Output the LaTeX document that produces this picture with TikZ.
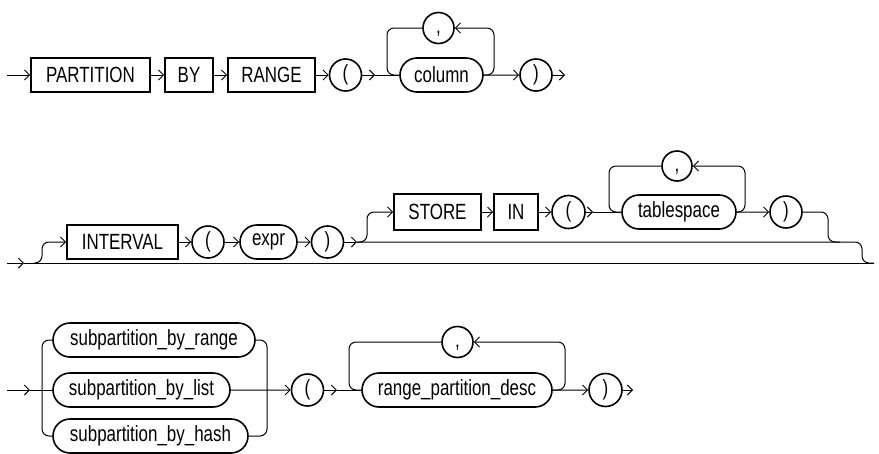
\documentclass[tikz,border=0pt]{standalone}
\usepackage{fontspec}
\setmainfont{Liberation Sans}[FakeStretch=0.77]
\usetikzlibrary{arrows.meta,shapes.misc}
\begin{document}
\begin{tikzpicture}[x=1pt,y=-1pt,
  font=\fontsize{22}{26}\selectfont,
  kw/.style={draw,rectangle,line width=1.6pt,minimum height=34pt,inner sep=0pt},
  nt/.style={draw,rounded rectangle,line width=1.6pt,minimum height=34pt,inner sep=0pt},
  sym/.style={draw,circle,line width=1.6pt,minimum size=32pt,inner sep=0pt},
  conn/.style={line width=1pt},
  tip/.style={-{Straight Barb[length=5pt,width=10pt,line width=1pt]}},
  arr/.style={conn,tip},
  loopline/.style={conn,rounded corners=7pt}]
\useasboundingbox (0,0) rectangle (879,453);
% ---------- row 1
\coordinate (s1) at (7,75);
\node[kw,minimum width=119pt] (partition) at (90.5,75) {PARTITION};
\node[kw,minimum width=48pt] (by) at (189,75) {BY};
\node[kw,minimum width=87pt] (range) at (271.5,75) {RANGE};
\node[sym] (lp1) at (345.5,75) {(};
\coordinate (a1) at (375,75);
\node[nt,minimum width=83pt] (column) at (441.5,75) {column};
\node[sym,minimum size=31pt] (c1) at (438.5,28) {\vphantom{()},};
\node[sym] (rp1) at (536,75) {)};
\coordinate (e1) at (565,75);
\draw[arr] (s1) -- (partition);
\draw[arr] (partition) -- (by);
\draw[arr] (by) -- (range);
\draw[arr] (range) -- (lp1);
\draw[arr] (lp1) -- (a1);
\draw[conn] (a1) -- (column);
\draw[arr] (column) -- (rp1);
\draw[arr] (rp1) -- (e1);
\draw[loopline,tip] (column.east) -| (494,28) -- (c1.east);
\draw[loopline] (c1.west) -| (387,75) -- (column.west);
% ---------- row 2
\coordinate (s2) at (7,263);
\coordinate (a2) at (24,263);
\coordinate (e2) at (874,263);
\node[kw,minimum width=111pt] (interval) at (122.5,242) {INTERVAL};
\node[sym] (lp2) at (208,242) {(};
\node[nt,minimum width=57pt] (expr) at (268.5,242) {expr};
\node[sym] (rp2) at (327.5,242) {)};
\coordinate (a3) at (357,242);
\node[kw,minimum width=87pt,minimum height=36pt] (store) at (437.5,212) {STORE};
\node[kw,minimum width=44pt,minimum height=36pt] (in) at (516,212) {IN};
\node[sym,minimum size=33pt] (lp3) at (568.5,212) {(};
\coordinate (a5) at (593,212);
\node[nt,minimum width=114pt] (tablespace) at (679,212) {tablespace};
\node[sym,minimum size=30pt] (c2) at (677,166) {\vphantom{()},};
\node[sym] (rp3) at (786,212) {)};
\draw[arr] (s2) -- (a2);
\draw[conn] (a2) -- (e2);
\draw[loopline,tip] (34,263) -| (42,242) -- (interval.west);
\draw[arr] (interval) -- (lp2);
\draw[arr] (lp2) -- (expr);
\draw[arr] (expr) -- (rp2);
\draw[arr] (rp2) -- (a3);
\draw[loopline] (a3) -| (862,263) -- (e2);
\draw[loopline,tip] (a3) -| (367,212) -- (store.west);
\draw[arr] (store) -- (in);
\draw[arr] (in) -- (lp3);
\draw[arr] (lp3) -- (a5);
\draw[conn] (a5) -- (tablespace);
\draw[arr] (tablespace) -- (rp3);
\draw[loopline,tip] (tablespace.east) -| (745,166) -- (c2.east);
\draw[loopline] (c2.west) -| (609,212) -- (tablespace.west);
\draw[loopline] (rp3.east) -| (828,242) -- (840,242);
% ---------- row 3
\coordinate (s3) at (7,390);
\coordinate (a4) at (30,390);
\node[nt,minimum width=202pt] (sr) at (154,340) {subpartition\_by\_range};
\node[nt,minimum width=177pt] (sl) at (141.5,390) {subpartition\_by\_list};
\node[nt,minimum width=195pt] (sh) at (150.5,436) {subpartition\_by\_hash};
\node[sym] (lp4) at (307.5,390) {(};
\coordinate (a6) at (337,390);
\node[nt,minimum width=190pt] (rpd) at (457,390) {range\_partition\_desc};
\node[sym,minimum size=31pt] (c3) at (457.5,342) {\vphantom{()},};
\node[sym,minimum size=33pt] (rp4) at (605.5,390) {)};
\coordinate (e3) at (633,390);
\draw[arr] (s3) -- (a4);
\draw[conn] (a4) -- (sl);
\draw[loopline] (sr.west) -| (42,436) -- (sh.west);
\draw[loopline] (sr.east) -| (267,436) -- (sh.east);
\draw[arr] (sl) -- (lp4);
\draw[arr] (lp4) -- (a6);
\draw[conn] (a6) -- (rpd);
\draw[arr] (rpd) -- (rp4);
\draw[arr] (rp4) -- (e3);
\draw[loopline,tip] (rpd.east) -| (565,342) -- (c3.east);
\draw[loopline] (c3.west) -| (349,390) -- (rpd.west);
\end{tikzpicture}
\end{document}
